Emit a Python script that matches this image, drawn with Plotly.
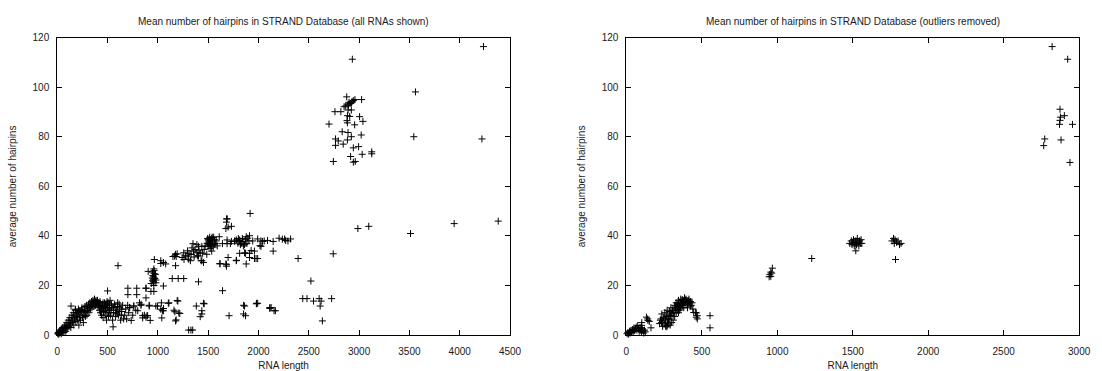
import plotly.graph_objects as go

# ---------------- data: all RNAs (left panel) ----------------
all_len = [
    5, 10, 15, 20, 25, 30, 35, 40, 45, 50, 55, 60, 65, 70, 75, 80, 85, 90, 95, 100,
    105, 110, 115, 120, 125, 130, 135, 140, 145, 150, 155, 160, 165, 170, 175, 180, 185, 190, 195, 200,
    205, 210, 215, 220, 225, 230, 235, 240, 245, 250, 255, 260, 265, 270, 275, 280, 285, 290, 295, 300,
    305, 310, 315, 320, 325, 330, 335, 340, 345, 350, 355, 360, 365, 370, 375, 380, 385, 390, 395, 400,
    405, 410, 415, 420, 425, 430, 435, 440, 445, 450, 455, 460, 465, 470, 475, 480, 485, 490, 495, 500,
    505, 510, 515, 520, 525, 530, 540, 550, 555, 560, 570, 580, 590, 600, 610, 620, 630, 640, 650, 660,
    670, 680, 690, 700, 710, 720, 735, 750, 760, 780, 800, 817, 833, 849, 866, 882,
    137, 180, 212, 245, 500, 604, 702, 790, 882, 702, 790, 637, 719, 761,
    833, 849, 882, 892, 898, 914, 914, 924, 980, 996, 1035, 1039, 1029, 1045, 1055, 1055, 1104, 1110,
    1160, 1169, 1176, 1182, 1192, 1199, 1208, 1218, 1306, 1329, 1346, 1382, 1421, 1437, 1453, 1460,
    1437, 1643, 1708, 1852, 1862, 1852, 1871, 1979, 1992, 2113, 2126, 2155, 2168,
    904, 947, 960, 963, 957, 970, 947, 980, 980, 934, 957, 963, 950, 965, 955, 945, 975, 960, 931, 960,
    882, 1055, 965, 1029, 1029, 1055, 1078, 1150, 1176, 1176, 1166, 1182, 1192, 1143, 1202, 1257, 1404,
    1241, 1257, 1260, 1275, 1290, 1295, 1306, 1310, 1323, 1330, 1339, 1349, 1355, 1360, 1370, 1388, 1388,
    1395, 1404, 1404, 1410, 1421, 1430, 1437, 1437, 1445, 1453, 1460, 1470, 1486, 1490, 1495, 1500, 1505,
    1510, 1515, 1519, 1520, 1525, 1530, 1535, 1535, 1540, 1545, 1550, 1555, 1560, 1565, 1570, 1580, 1590,
    1610, 1500, 1510, 1525, 1540,
    1617, 1617, 1642, 1676, 1682, 1682, 1688, 1688, 1698, 1721, 1676, 1682, 1690, 1682, 1698, 1731, 1731,
    1764, 1764, 1780, 1780, 1780, 1796, 1800, 1813, 1813, 1813, 1820, 1829, 1840, 1845, 1850, 1862, 1862,
    1870, 1872, 1878, 1878, 1885, 1894, 1905, 1911, 1911, 1911, 1917, 1927, 1943, 1960, 1960, 1976, 1992,
    1992, 2015, 2025, 2025, 2041, 2057, 2090, 2146, 2146, 2205, 2237, 2260, 2270, 2293, 2319, 2394, 1982,
    2440, 2482, 2521, 2547, 2603, 2613, 2623, 2635, 2727, 2743, 2113,
    2988, 3096, 3511, 3945, 4383, 2933, 4236, 3560, 3544, 4221,
    2923, 2890, 2943, 2959, 3025, 2877, 2867, 2851, 2890, 2923, 2760, 2819, 2884, 2907, 3005, 2880, 3038,
    2884, 2956, 2701, 2832, 2890, 3021, 2923, 2766, 2793, 2842, 2884, 2766, 2943, 2995, 3126, 3126, 3031,
    2916, 2744, 2943, 2962, 2900, 2910, 2930, 2895,
    420, 440, 460, 480, 500, 520, 540, 560, 580, 600, 620, 640, 455, 475, 495, 515, 535, 575, 595, 615,
]
all_hp = [
    0.5, 1, 0.3, 1.5, 0.8, 2, 1.2, 0.5, 2.5, 1.5, 3, 2, 1, 3.5, 2.5, 4, 1.5, 3, 5, 2.5,
    4, 6, 3.5, 5, 7, 4.5, 3, 6, 8, 5, 7, 9, 4, 6.5, 8, 10, 5.5, 7.5, 9, 6,
    8.5, 10.5, 4, 7, 9.5, 6, 8, 10, 11, 7, 9, 5, 8, 10, 11.5, 7.5, 9.5, 12, 8, 10,
    11, 12.5, 9, 11, 13, 10.5, 12, 13.5, 11, 12.5, 14, 13, 11.5, 14.5, 13.5, 12, 14, 13, 12.5, 14,
    11, 13, 12, 10, 13.5, 9, 11.5, 8, 10.5, 12, 7, 9.5, 11, 13, 8, 10, 12, 6, 9, 11,
    13, 7.5, 10, 12, 14, 8, 11, 6, 3.3, 9, 12.5, 7.5, 10, 13, 8, 11, 6, 9.5, 12, 6.5,
    8, 10.5, 6.5, 12, 9, 11, 5.9, 8, 11.7, 10, 9.8, 13, 12, 7.8, 8, 15,
    11.7, 10.4, 9.8, 10.4, 17.8, 28, 18.9, 18.9, 18.9, 16.3, 16.3, 10.4, 11.1, 11.7,
    12.4, 6.9, 7.2, 7.8, 7.8, 11.7, 12, 5.9, 11.7, 11.7, 13, 6.9, 10.4, 9.8, 9.8, 10.7, 12.8, 13,
    10, 9.4, 5.7, 6.1, 13.9, 13.7, 8.9, 8.7, 2, 2, 2, 11.7, 7.4, 8.5, 12.8, 12.6,
    9.8, 17.9, 7.8, 12, 11.7, 8.5, 7.8, 12.6, 12.8, 11.1, 11.1, 9.8, 9.8,
    25.7, 25.4, 26.7, 24.8, 23.5, 22.8, 21.9, 22.2, 21.1, 20.8, 21.5, 26, 24, 23, 22.5, 23, 24.5, 20, 17.6, 17.6,
    18.9, 19.8, 30.5, 28.9, 30, 29.3, 28.7, 31.7, 32.6, 28, 31.9, 31.7, 32.8, 22.8, 22.8, 22.8, 21.5,
    31.3, 33.2, 30.5, 32, 31.9, 34, 30.6, 33, 30, 32.5, 35.2, 36.9, 33.9, 31.5, 34.5, 33.2, 36.5,
    32, 31.9, 35.8, 34, 33.2, 30, 30, 35.8, 33, 29.3, 34.5, 36, 32.6, 37, 39, 35.8, 38,
    36.5, 39.5, 37.5, 35, 38.5, 36, 33.9, 39, 37, 38, 35.5, 39.5, 36.5, 38.5, 37, 38, 36,
    39.7, 38.5, 37.5, 36.5, 39.5,
    28.9, 28.7, 36.9, 28.7, 27.8, 28.4, 36.9, 38.4, 31.3, 36.9, 43, 46.9, 46.9, 45.6, 43.6, 43.9, 37.8,
    37.8, 38, 38.4, 30, 30.2, 37.1, 39, 38.2, 33, 38.4, 36.5, 37.1, 39, 37.8, 36, 36.5, 33.2,
    38.5, 33, 39.7, 28.7, 37, 39.1, 38, 33, 31.3, 40.1, 49.1, 34.1, 38, 33.9, 30.9, 30.9, 30.9,
    38.8, 36.1, 38, 35.8, 37.8, 38, 38.2, 37.8, 33.9, 39.1, 38.7, 38.8, 38.2, 38, 38.8, 30.9, 12.8,
    14.7, 14.7, 21.8, 13.7, 14.7, 11.7, 13.7, 5.7, 14.7, 32.8, 10.7,
    43, 43.9, 41, 45, 46, 111.4, 116.5, 98.2, 80.1, 79.2,
    93.8, 93.2, 94.7, 95.1, 95.1, 96.2, 92.5, 92.2, 90.9, 90.9, 90.2, 90.2, 88.6, 88.3, 88.2, 86.6, 86.3,
    85.7, 84.9, 85.2, 82.1, 81.8, 80.8, 80.1, 79.2, 78.4, 77.1, 78.8, 76.6, 75.6, 76.1, 74, 73.2, 73,
    72.1, 70.1, 69.8, 70.1, 94, 93.5, 94.3, 92.8,
    12.5, 11, 9.5, 12.5, 12, 10.5, 12.5, 11, 9, 11.5, 9.5, 8, 13, 11.5, 13.5, 9, 10, 11.5, 8.5, 12.5,
]

# ---------------- data: outliers removed (right panel) ----------------
filt_len = [
    5, 10, 15, 20, 25, 30, 35, 40, 45, 50, 55, 60, 65, 70, 75, 80, 85, 90, 95, 100,
    105, 110, 115, 120, 125, 133, 141, 143, 152, 163, 98, 102, 100,
    220, 225, 230, 232, 235, 239, 240, 245, 250, 255, 260, 265, 268, 270, 272, 275, 280, 283, 285, 290,
    294, 295, 300, 305, 310, 315, 320, 325, 326, 330, 335, 340, 345, 348, 350, 355, 360, 365, 370, 375,
    380, 385, 391, 395, 400, 405, 410, 415, 420, 424, 430, 435, 440, 446, 459, 463, 463, 470, 470, 554, 554,
    300, 310, 320, 330, 340, 350, 360, 370, 380, 290, 280, 270, 260, 250, 345, 355, 365, 375, 385, 395,
    405, 415, 425,
    950, 946, 957, 957, 963, 967, 1228,
    1480, 1490, 1495, 1500, 1505, 1510, 1515, 1520, 1520, 1525, 1530, 1535, 1540, 1545, 1550, 1555, 1560,
    1760, 1770, 1775, 1780, 1783, 1790, 1800, 1810, 1820,
    2821, 2924, 2873, 2876, 2902, 2873, 2870, 2956, 2772, 2765, 2880, 2939,
]
filt_hp = [
    0.5, 1, 0.3, 1.5, 0.8, 1.8, 1, 2.2, 1.3, 2.8, 1.8, 2.5, 3.2, 2, 3.8, 2.6, 1.5, 3, 2, 1.2,
    2.5, 1.8, 0.8, 2, 1.3, 7.2, 6.5, 5.9, 5.5, 2.9, 2.9, 5, 3.9,
    4.6, 6, 6.5, 5, 8.5, 5.2, 3.5, 7, 4.5, 9, 6, 7.5, 3.3, 10, 5.2, 8, 6.5, 6.5, 9.5, 7.5,
    7.8, 11, 8.5, 10, 9, 9.8, 12, 10.5, 11.7, 13, 11, 12.5, 14, 13, 11.5, 12.5, 14.5, 13, 14.3, 12,
    13.5, 15, 14.1, 12.5, 13.5, 11, 14, 12.5, 13, 11.7, 12, 13, 10.5, 9.1, 9.1, 8.9, 7.2, 7.8, 6.5, 7.8, 2.9,
    5, 6, 7.5, 9, 10, 10, 11, 12, 11, 4, 4.5, 3.8, 3.5, 6.8, 9, 10.5, 12.5, 14, 13, 14.5,
    13, 14.5, 13.5,
    24.5, 23.5, 23.7, 25.4, 25, 27, 30.9,
    37, 38, 36.5, 37.5, 38.5, 36, 37, 38, 34, 36.5, 39, 37.5, 36, 38, 37, 38.5, 37,
    38, 39, 37, 38.5, 30.5, 37.5, 38, 36.5, 37,
    116.5, 111.4, 91.2, 88, 88.6, 86.7, 85.1, 85.1, 79.2, 76.5, 78.8, 69.7,
]

x_ticks_left = [0, 500, 1000, 1500, 2000, 2500, 3000, 3500, 4000, 4500]
x_ticks_right = [0, 500, 1000, 1500, 2000, 2500, 3000]
y_ticks = [0, 20, 40, 60, 80, 100, 120]

titles = ["Mean number of hairpins in STRAND Database (all RNAs shown)",
          "Mean number of hairpins in STRAND Database (outliers removed)"]
x_title = "RNA length"
y_title = "average number of hairpins"

W, H = 1102, 371
FONT = "Liberation Sans, Arial, Helvetica, sans-serif"
TXT = "#1a1a1a"

marker = dict(symbol="cross-thin", size=5, color="black",
              line=dict(width=1, color="black"))

fig = go.Figure()
fig.add_trace(go.Scatter(x=all_len, y=all_hp, mode="markers", marker=marker,
                         xaxis="x", yaxis="y", cliponaxis=False, showlegend=False))
fig.add_trace(go.Scatter(x=filt_len, y=filt_hp, mode="markers", marker=marker,
                         xaxis="x2", yaxis="y2", cliponaxis=False, showlegend=False))

def xax(dom, rng, ticks, anchor):
    return dict(domain=dom, range=rng, tickvals=ticks, ticktext=[str(t) for t in ticks],
                ticks="inside", ticklen=5, tickcolor="black", showline=True, linecolor="black",
                linewidth=1, mirror="ticks", showgrid=False, zeroline=False, anchor=anchor,
                tickfont=dict(size=10, color=TXT, family=FONT),
                ticklabelstandoff=7,
                title=dict(text=x_title, font=dict(size=10, color=TXT, family=FONT), standoff=7))

def yax(dom, anchor):
    return dict(domain=dom, range=[0, 120], tickvals=y_ticks, ticktext=[str(t) for t in y_ticks],
                ticks="inside", ticklen=5, tickcolor="black", showline=True, linecolor="black",
                linewidth=1, mirror="ticks", showgrid=False, zeroline=False, anchor=anchor,
                tickfont=dict(size=10, color=TXT, family=FONT),
                ticklabelstandoff=5,
                title=dict(text=y_title, font=dict(size=10, color=TXT, family=FONT), standoff=14))

ydom = [(H - 340) / H, (H - 33) / H]
fig.update_layout(
    width=W, height=H,
    margin=dict(l=0, r=0, t=0, b=0),
    paper_bgcolor="white", plot_bgcolor="white",
    font=dict(family=FONT, size=10, color=TXT),
    xaxis=xax([55 / W, 514 / W], [0, 4500], x_ticks_left, "y"),
    yaxis=yax(ydom, "x"),
    xaxis2=xax([632 / W, 1091 / W], [0, 3000], x_ticks_right, "y2"),
    yaxis2=yax(ydom, "x2"),
    annotations=[
        dict(text=titles[0], x=284.5 / W, y=(H - 16) / H, xref="paper", yref="paper",
             showarrow=False, xanchor="center", yanchor="middle",
             font=dict(size=10, color=TXT, family=FONT)),
        dict(text=titles[1], x=861.5 / W, y=(H - 16) / H, xref="paper", yref="paper",
             showarrow=False, xanchor="center", yanchor="middle",
             font=dict(size=10, color=TXT, family=FONT)),
    ],
)

fig.write_html("out.html", config={"displayModeBar": False},
               post_script="document.body.style.margin='0px';")
